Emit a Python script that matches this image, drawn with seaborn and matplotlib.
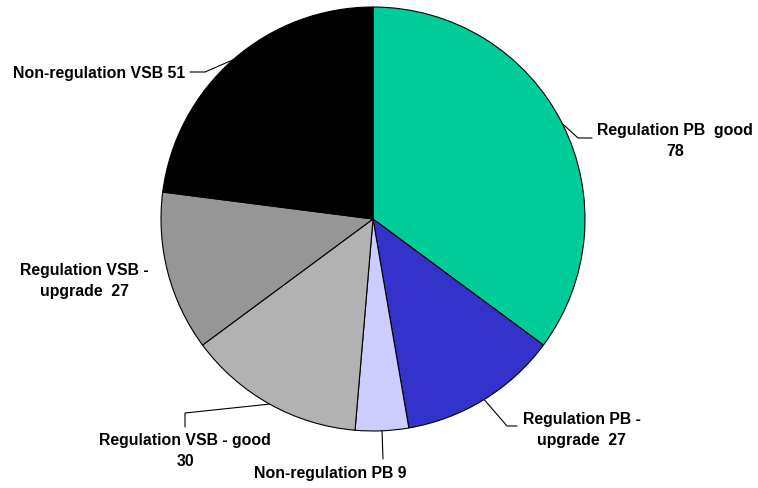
import numpy as np
import matplotlib
matplotlib.use("Agg")
import matplotlib.pyplot as plt
import seaborn as sns

categories = ["Regulation PB  good", "Regulation PB -\nupgrade", "Non-regulation PB",
              "Regulation VSB - good", "Regulation VSB -\nupgrade", "Non-regulation VSB"]
values = [78, 27, 9, 30, 27, 51]
labels = ["Regulation PB  good\n78", "Regulation PB -\nupgrade  27", "Non-regulation PB 9",
          "Regulation VSB - good\n30", "Regulation VSB -\nupgrade  27", "Non-regulation VSB 51"]
colors = ["#00CC99", "#3333CC", "#CCCCFF", "#B2B2B2", "#969696", "#000000"]

sns.set_theme(style="white")
plt.rcParams["font.family"] = ["Liberation Sans", "DejaVu Sans"]

W, H = 758, 489
fig = plt.figure(figsize=(W / 100, H / 100), dpi=100)
ax = fig.add_axes([0, 0, 1, 1])

cx, cy, r = 373, H - 220, 212
wedges, _ = ax.pie(values, colors=colors, startangle=90, counterclock=False,
                   center=(cx, cy), radius=r, frame=True,
                   wedgeprops=dict(edgecolor="black", linewidth=0.8))
ax.set_xlim(0, W)
ax.set_ylim(0, H)
ax.set_aspect("equal")
ax.axis("off")

# label placement (pixel coords from top) and leader bends
label_pos = [(675, 141), (582, 430), (330, 474), (185, 451), (84, 281), (185, 74)]
label_ha = ["center", "center", "center", "center", "center", "right"]
bends = [[(578, 139), (592, 139)],
         [(507, 427), (517, 427)],
         [(383, 460)],
         [(185, 414), (185, 428)],
         None,
         [(205, 73), (190, 73)]]

for w, lab, (lx, ly), ha, bend in zip(wedges, labels, label_pos, label_ha, bends):
    mid = np.deg2rad((w.theta1 + w.theta2) / 2)
    ex, ey = cx + r * np.cos(mid), cy + r * np.sin(mid)
    if bend is not None:
        xs = [ex] + [b[0] for b in bend]
        ys = [ey] + [H - b[1] for b in bend]
        ax.plot(xs, ys, color="black", lw=0.8)
    ax.text(lx, H - ly, lab, ha=ha, va="center", fontsize=11.4,
            fontweight="bold", linespacing=1.5, color="black")

fig.savefig("out.png", dpi=100, facecolor="white")
